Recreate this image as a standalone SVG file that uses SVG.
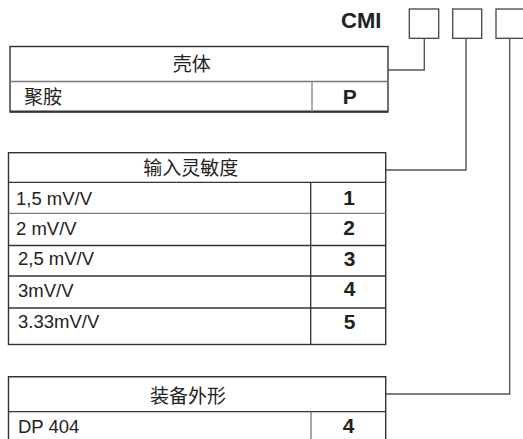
<svg xmlns="http://www.w3.org/2000/svg" width="523" height="439" viewBox="0 0 523 439">
<style>
.bg{fill:#fff}
.frame{fill:none;stroke:#333;stroke-width:1.4}
.grid{stroke:#333;stroke-width:1.3;fill:none}
.lgrid{stroke:#777;stroke-width:1.6;fill:none}
.conn{stroke:#555;stroke-width:1.4;fill:none}
.box{fill:#fff;stroke:#444;stroke-width:1.3}
.cjk{font-family:"Liberation Sans","Noto Sans CJK SC",sans-serif;font-size:19px;fill:#222}
.lbl{font-family:"Liberation Sans","Noto Sans CJK SC",sans-serif;font-size:18.5px;fill:#222}
.num{font-family:"Liberation Sans",Arial,sans-serif;font-size:21px;font-weight:bold;fill:#222;text-anchor:middle}
.hdr{text-anchor:middle}
</style>
<rect class="bg" x="0" y="0" width="523" height="439"/>

<g id="code">
  <text x="341" y="28" style="font-family:'Liberation Sans',Arial,sans-serif;font-size:22px;font-weight:bold;fill:#222">CMI</text>
  <rect class="box" x="409.3" y="9" width="29.4" height="29.3"/>
  <rect class="box" x="452.7" y="9" width="29" height="29.3"/>
  <rect class="box" x="496" y="9" width="30" height="29.3"/>
</g>

<g id="connectors">
  <path class="conn" d="M424.3 38.3 V70 H388"/>
  <path class="conn" d="M466 38.3 V170 H385.7"/>
  <path class="conn" d="M509.7 38.3 V394 H385.7"/>
</g>

<g id="housing">
  <rect class="frame" x="10" y="46.5" width="378" height="65.5"/>
  <line class="lgrid" x1="10" y1="81.5" x2="388" y2="81.5"/>
  <line class="grid" x1="10" y1="111.5" x2="388" y2="111.5" style="stroke-width:2"/>
  <line class="lgrid" x1="312" y1="81.5" x2="312" y2="112" style="stroke-width:1.2"/>
  <text class="cjk hdr" x="191.7" y="71">壳体</text>
  <text class="cjk" x="24" y="104">聚胺</text>
  <text class="num" x="349.7" y="104">P</text>
</g>

<g id="sensitivity">
  <rect class="frame" x="8.5" y="152.7" width="377.2" height="191.8"/>
  <line class="grid" x1="8.5" y1="182.3" x2="385.7" y2="182.3"/>
  <line class="lgrid" x1="8.5" y1="213.3" x2="385.7" y2="213.3" style="stroke-width:1.3"/>
  <line class="grid" x1="8.5" y1="245.5" x2="385.7" y2="245.5"/>
  <line class="grid" x1="8.5" y1="276" x2="385.7" y2="276"/>
  <line class="grid" x1="8.5" y1="308" x2="385.7" y2="308"/>
  <line class="grid" x1="310.7" y1="182.3" x2="310.7" y2="344.5"/>
  <text class="cjk hdr" x="190.8" y="175">输入灵敏度</text>
  <text class="lbl" x="16" y="205">1,5 mV/V</text>
  <text class="lbl" x="16" y="235">2 mV/V</text>
  <text class="lbl" x="18" y="265">2,5 mV/V</text>
  <text class="lbl" x="18" y="296.5">3mV/V</text>
  <text class="lbl" x="18" y="328">3.33mV/V</text>
  <text class="num" x="349" y="205">1</text>
  <text class="num" x="349" y="234.5">2</text>
  <text class="num" x="349.5" y="266">3</text>
  <text class="num" x="349.5" y="296">4</text>
  <text class="num" x="349.5" y="329">5</text>
</g>

<g id="equipment">
  <path class="frame" d="M8.5 442 V376.7 H385.7 V442"/>
  <line class="grid" x1="8.5" y1="411.7" x2="385.7" y2="411.7"/>
  <line class="lgrid" x1="311" y1="411.7" x2="311" y2="442" style="stroke-width:1.3"/>
  <text class="cjk hdr" x="188" y="402.5">装备外形</text>
  <text class="lbl" x="18" y="433.3">DP 404</text>
  <text class="num" x="348.7" y="433.3">4</text>
</g>
</svg>
